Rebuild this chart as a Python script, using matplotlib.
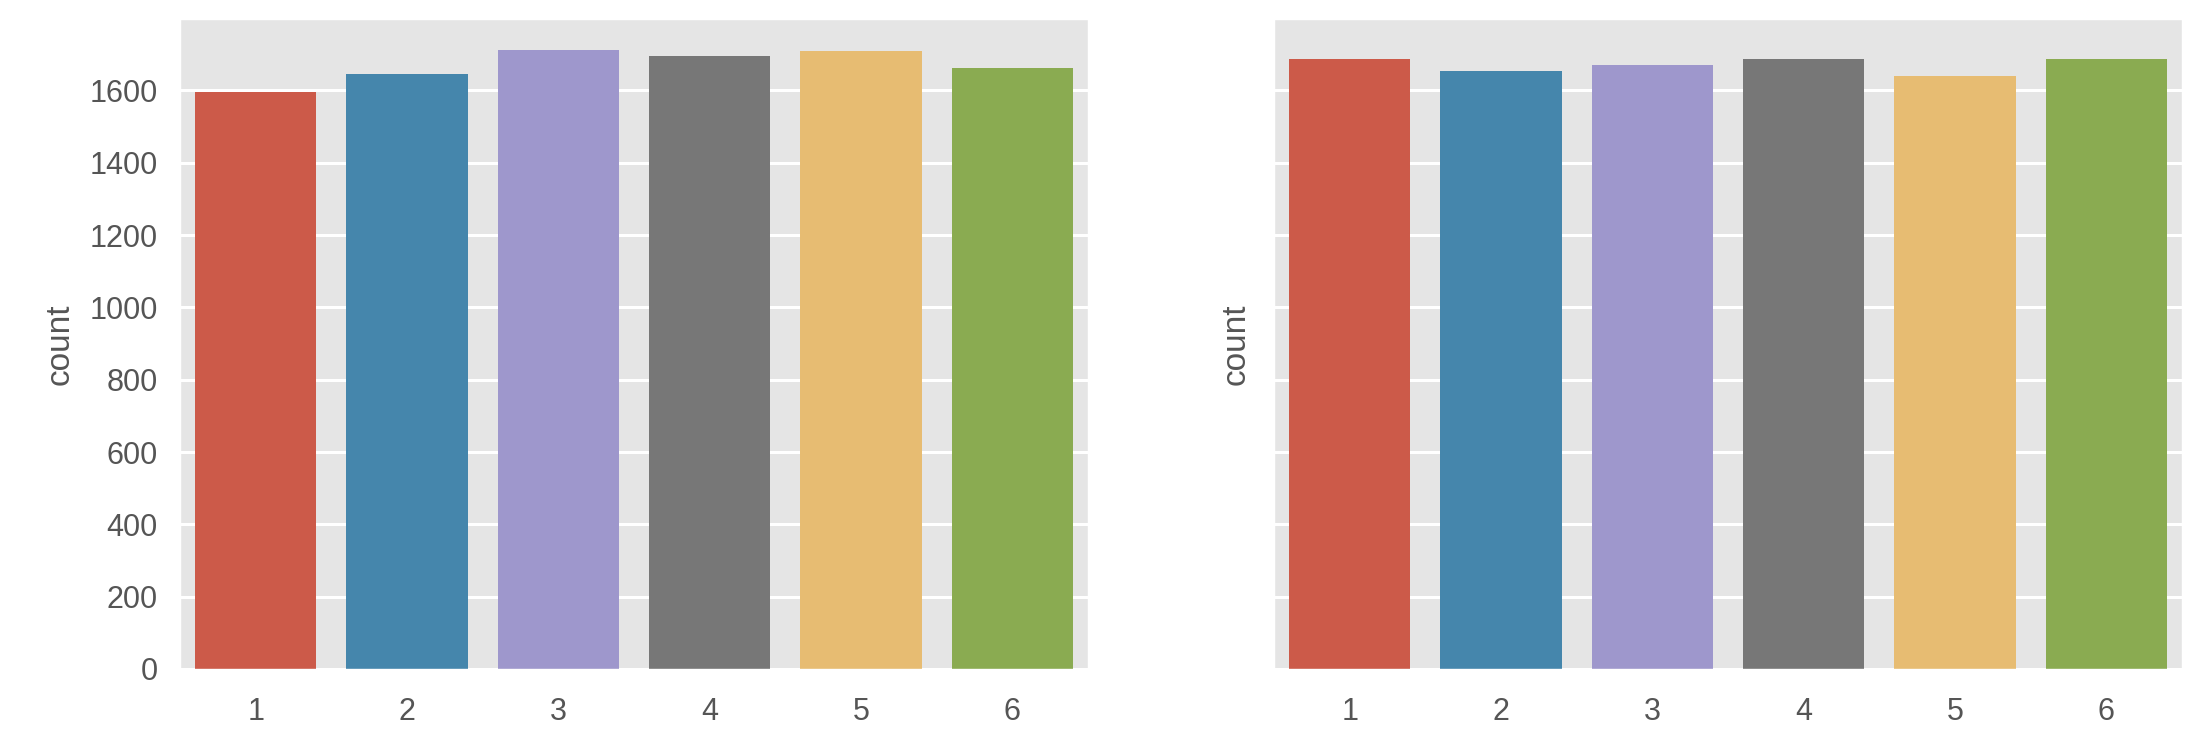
import matplotlib
matplotlib.use("Agg")
import matplotlib.pyplot as plt
import seaborn as sns

categories = ['1', '2', '3', '4', '5', '6']
counts_left = [1597, 1646, 1712, 1696, 1710, 1662]
counts_right = [1688, 1655, 1671, 1688, 1640, 1687]

plt.style.use('ggplot')
plt.rcParams['font.family'] = ['Liberation Sans Narrow', 'Liberation Sans', 'DejaVu Sans']

palette = ['#E24A33', '#348ABD', '#988ED5', '#777777', '#FBC15E', '#8EBA42']
colors = [sns.desaturate(c, 0.75) for c in palette]

fig = plt.figure(figsize=(22.02, 7.4), dpi=100)
ax1 = fig.add_axes([180 / 2202, 1 - 669 / 740, 908 / 2202, 650 / 740])
ax2 = fig.add_axes([1274 / 2202, 1 - 669 / 740, 908 / 2202, 650 / 740], sharey=ax1)

for ax, counts in [(ax1, counts_left), (ax2, counts_right)]:
    ax.bar(range(len(categories)), counts, width=0.8, color=colors)
    ax.set_xticks(range(len(categories)))
    ax.set_xticklabels(categories)
    ax.set_xlim(-0.5, len(categories) - 0.5)
    ax.grid(True, axis='y', color='white', linewidth=2.2)
    ax.grid(False, axis='x')
    ax.tick_params(axis='both', length=0, labelsize=22, colors='#555555')
    ax.tick_params(axis='x', pad=20)
    ax.tick_params(axis='y', pad=16)
    ax.set_ylabel('count', fontsize=24, color='#555555')

ax1.set_ylim(0, max(counts_left) * 1.05)
ax1.set_yticks(range(0, 1601, 200))
ax1.yaxis.labelpad = 10
ax2.tick_params(axis='y', labelleft=False)
ax2.yaxis.labelpad = 16

fig.savefig('out.png', dpi=100)
